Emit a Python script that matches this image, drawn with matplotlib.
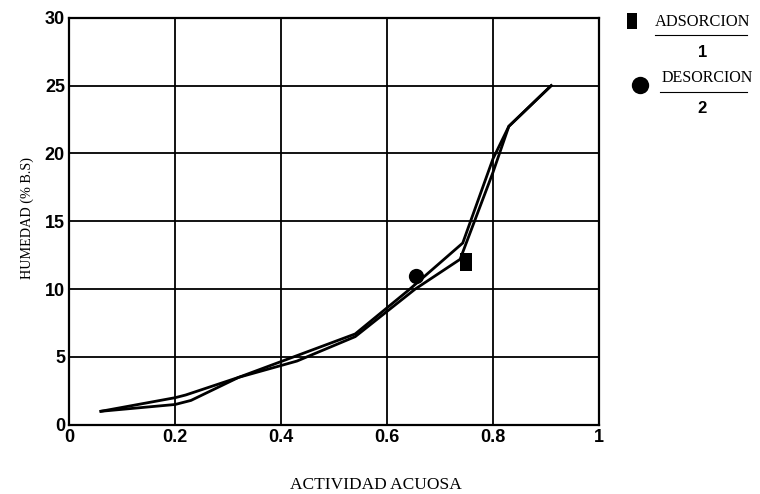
import matplotlib.pyplot as plt

# isotherm data: water activity vs moisture (% dry basis)
aw_ads = [0.06, 0.20, 0.23, 0.32, 0.43, 0.54, 0.653, 0.738, 0.80, 0.83, 0.91]
hum_ads = [1.0, 1.5, 1.8, 3.5, 4.7, 6.5, 10.0, 12.2, 18.6, 22.0, 25.0]
aw_des = [0.06, 0.20, 0.22, 0.32, 0.43, 0.54, 0.643, 0.743, 0.80, 0.83, 0.91]
hum_des = [1.0, 2.0, 2.2, 3.5, 5.1, 6.7, 10.0, 13.4, 19.6, 22.0, 25.0]

# single marked points
ads_point = (0.75, 12.0)
des_point = (0.655, 11.0)

xticks = [0, 0.2, 0.4, 0.6, 0.8, 1]
xticklabels = ['0', '0.2', '0.4', '0.6', '0.8', '1']
yticks = [0, 5, 10, 15, 20, 25, 30]

serif = 'Liberation Serif'
sans = 'Liberation Sans'

# tall rectangle marker
rect = [(-0.33, -0.5), (0.33, -0.5), (0.33, 0.5), (-0.33, 0.5), (-0.33, -0.5)]

fig = plt.figure(figsize=(7.6, 4.94), dpi=100)
ax = fig.add_axes([0.091, 0.140, 0.697, 0.824])

ax.plot(aw_ads, hum_ads, color='black', lw=2.0, solid_joinstyle='miter')
ax.plot(aw_des, hum_des, color='black', lw=2.0, solid_joinstyle='miter')
ax.plot(*ads_point, marker=rect, ms=13, color='black', markeredgewidth=0)
ax.plot(*des_point, marker='o', ms=11, color='black', markeredgewidth=0)

ax.set_xlim(0, 1)
ax.set_ylim(0, 30)
ax.set_xticks(xticks)
ax.set_xticklabels(xticklabels)
ax.set_yticks(yticks)
ax.grid(True, color='black', lw=1.3)
ax.tick_params(length=0, pad=3, labelsize=13)
for lab in ax.get_xticklabels() + ax.get_yticklabels():
    lab.set_family(sans)
    lab.set_fontweight('bold')
for s in ax.spines.values():
    s.set_linewidth(1.6)

fig.text(0.495, 0.018, 'ACTIVIDAD ACUOSA', family=serif, fontsize=12.5,
         ha='center', va='center')
fig.text(0.0355, 0.559, 'HUMEDAD (% B.S)', family=serif, fontsize=10.2,
         rotation=90, ha='center', va='center')

# legend drawn at the right of the plot
ax.plot([1.062], [0.991], marker=rect, ms=11, color='black', transform=ax.transAxes,
        clip_on=False, markeredgewidth=0)
fig.text(0.862, 0.955, 'ADSORCION', family=serif, fontsize=11.8, ha='left', va='center')
fig.lines.append(plt.Line2D([0.862, 0.983], [0.930, 0.930], color='black', lw=0.8,
                            transform=fig.transFigure))
fig.text(0.924, 0.893, '1', family=sans, fontsize=12, ha='center', va='center',
         fontweight='bold')
ax.plot([1.077], [0.835], marker='o', ms=12.5, color='black', transform=ax.transAxes,
        clip_on=False, markeredgewidth=0)
fig.text(0.871, 0.842, 'DESORCION', family=serif, fontsize=11.5, ha='left', va='center')
fig.lines.append(plt.Line2D([0.868, 0.983], [0.814, 0.814], color='black', lw=0.8,
                            transform=fig.transFigure))
fig.text(0.924, 0.781, '2', family=sans, fontsize=12, ha='center', va='center',
         fontweight='bold')

fig.savefig('out.png', dpi=100)
